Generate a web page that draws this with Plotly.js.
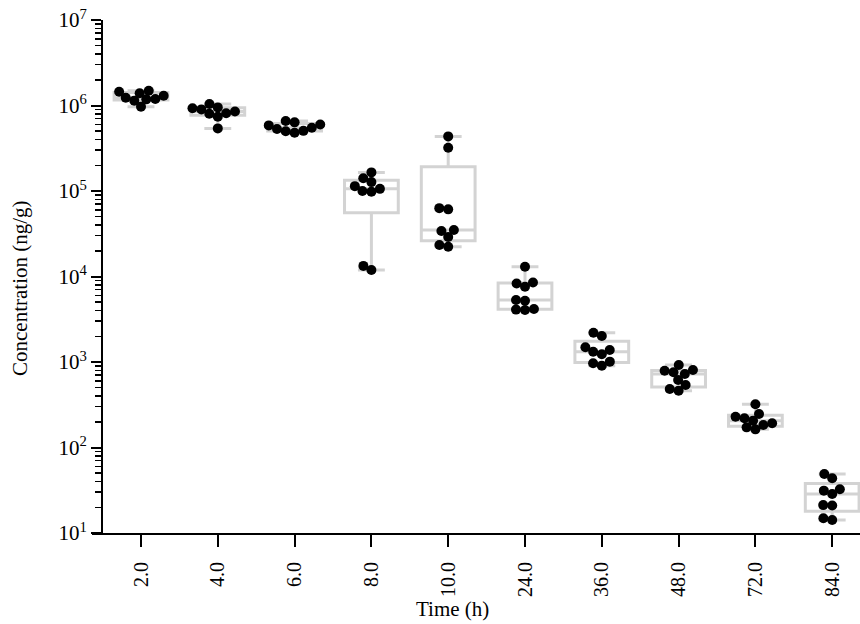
<!DOCTYPE html>
<html>
<head>
<meta charset="utf-8">
<script src="https://cdn.plot.ly/plotly-3.0.1.min.js"></script>
<style>html,body{margin:0;padding:0;background:#fff}</style>
</head>
<body>
<div id="chart" style="width:860px;height:624px"></div>
<script>
// ---- data ----
const categories = ['2.0', '4.0', '6.0', '8.0', '10.0', '24.0', '36.0', '48.0', '72.0', '84.0'];
const conc_2h  = [1.23e6, 1.45e6, 1.18e6, 0.97e6, 1.39e6, 1.14e6, 1.49e6, 1.19e6, 1.30e6];
const conc_4h  = [0.93e6, 0.90e6, 0.85e6, 0.81e6, 0.74e6, 0.80e6, 0.95e6, 1.04e6, 0.54e6];
const conc_6h  = [0.66e6, 0.60e6, 0.55e6, 0.505e6, 0.48e6, 0.50e6, 0.53e6, 0.585e6, 0.635e6];
const conc_8h  = [165e3, 141e3, 114e3, 100e3, 98e3, 106e3, 127e3, 11.9e3, 13.3e3];
const conc_10h = [435e3, 320e3, 63e3, 61e3, 35e3, 34e3, 29e3, 22.3e3, 23.4e3];
const conc_24h = [13.0e3, 8.5e3, 7.6e3, 8.3e3, 5.2e3, 5.3e3, 4.17e3, 4.06e3, 4.1e3];
const conc_36h = [2010, 2200, 1380, 1320, 1490, 1230, 1010, 906, 966];
const conc_48h = [805, 758, 724, 791, 922, 616, 538, 462, 483];
const conc_72h = [320, 247, 229, 206, 183, 163, 172, 192, 220];
const conc_84h = [49, 43.6, 31.3, 32.5, 28.6, 21.2, 21.0, 14.2, 14.9];
const groups = [conc_2h, conc_4h, conc_6h, conc_8h, conc_10h, conc_24h, conc_36h, conc_48h, conc_72h, conc_84h];
const yExponents = [1, 2, 3, 4, 5, 6, 7];

// ---- geometry ----
const W = 860, H = 624;
const M = {l: 92, r: 0, t: 20, b: 91};
const plotW = W - M.l - M.r, plotH = H - M.t - M.b;
const xRange = [-0.638, 9.362];
const yRange = [1, 7];
const pxPerX = plotW / (xRange[1] - xRange[0]);
const pxPerDecade = plotH / (yRange[1] - yRange[0]);
const DIAM = 9;
const FONT = 'Liberation Serif, Times New Roman, serif';

// ---- beeswarm offsets (pixel space) ----
function swarm(values) {
  const order = values.map((v, i) => i).sort((a, b) => values[a] - values[b]);
  const placed = [];
  const off = new Array(values.length).fill(0);
  for (const i of order) {
    const y = -Math.log10(values[i]) * pxPerDecade;
    const neigh = placed.filter(p => Math.abs(p.y - y) < DIAM);
    const cands = [0];
    for (const p of neigh) {
      const dx = Math.sqrt(DIAM * DIAM - (p.y - y) * (p.y - y));
      cands.push(p.x - dx, p.x + dx);
    }
    cands.sort((a, b) => Math.abs(a) - Math.abs(b));
    let best = 0;
    for (const c of cands) {
      if (neigh.every(p => (p.x - c) ** 2 + (p.y - y) ** 2 >= DIAM * DIAM - 1e-6)) { best = c; break; }
    }
    placed.push({x: best, y: y});
    off[i] = best;
  }
  return off;
}

// ---- box statistics (exclusive quartiles, 1.5 IQR whiskers) ----
function med(a) { const n = a.length, m = Math.floor(n / 2); return n % 2 ? a[m] : (a[m - 1] + a[m]) / 2; }
function stats(vals) {
  const s = vals.slice().sort((a, b) => a - b);
  const n = s.length, h = Math.floor(n / 2);
  const q1 = med(s.slice(0, h)), q3 = med(s.slice(n % 2 ? h + 1 : h));
  const iqr = q3 - q1;
  const lf = s.find(v => v >= q1 - 1.5 * iqr);
  const uf = s.slice().reverse().find(v => v <= q3 + 1.5 * iqr);
  return {q1: q1, median: med(s), q3: q3, lf: lf, uf: uf};
}

const idx = categories.map((c, i) => i);
const st = groups.map(stats);

const boxTrace = {
  type: 'box',
  x: idx,
  q1: st.map(s => s.q1),
  median: st.map(s => s.median),
  q3: st.map(s => s.q3),
  lowerfence: st.map(s => s.lf),
  upperfence: st.map(s => s.uf),
  width: 0.7,
  whiskerwidth: 0.5,
  fillcolor: 'white',
  line: {color: '#d3d3d3', width: 3},
  boxpoints: false,
  hoverinfo: 'skip',
  showlegend: false
};

const px = [], py = [];
groups.forEach((g, gi) => {
  const off = swarm(g);
  g.forEach((v, i) => { px.push(gi + off[i] / pxPerX); py.push(v); });
});

const pointTrace = {
  type: 'scatter',
  mode: 'markers',
  x: px,
  y: py,
  marker: {color: 'black', size: 10},
  hoverinfo: 'y',
  showlegend: false
};

const layout = {
  width: W, height: H,
  margin: M,
  paper_bgcolor: 'white',
  plot_bgcolor: 'white',
  font: {family: FONT, size: 20, color: 'black'},
  showlegend: false,
  xaxis: {
    range: xRange,
    tickmode: 'array',
    tickvals: idx,
    ticktext: categories,
    tickangle: -90,
    ticks: 'outside',
    ticklen: 12,
    tickwidth: 2,
    tickcolor: 'black',
    ticklabelstandoff: 7,
    showline: true,
    linecolor: 'black',
    linewidth: 2,
    showgrid: false,
    zeroline: false,
    tickfont: {family: FONT, size: 20, color: 'black'}
  },
  yaxis: {
    type: 'log',
    range: yRange,
    anchor: 'free',
    position: 10 / plotW,
    tickmode: 'array',
    tickvals: yExponents.map(e => Math.pow(10, e)),
    ticktext: yExponents.map(e => '10<sup>' + e + '</sup>'),
    ticks: 'outside',
    ticklen: 10,
    tickwidth: 2,
    tickcolor: 'black',
    minor: {ticks: 'outside', ticklen: 6, tickwidth: 1.5, tickcolor: 'black', dtick: 'D1'},
    showline: true,
    linecolor: 'black',
    linewidth: 2,
    showgrid: false,
    zeroline: false,
    tickfont: {family: FONT, size: 21, color: 'black'}
  },
  annotations: [
    {text: 'Time (h)', xref: 'paper', yref: 'paper', x: (452 - M.l) / plotW, y: -(609 - (H - M.b)) / plotH,
     xanchor: 'center', yanchor: 'middle', showarrow: false, font: {family: FONT, size: 21, color: 'black'}},
    {text: 'Concentration (ng/g)', xref: 'paper', yref: 'paper', x: -(M.l - 20) / plotW, y: 1 - (288 - M.t) / plotH,
     xanchor: 'center', yanchor: 'middle', textangle: -90, showarrow: false, font: {family: FONT, size: 21, color: 'black'}}
  ]
};

Plotly.newPlot('chart', [boxTrace, pointTrace], layout, {displayModeBar: false, staticPlot: true});
</script>
</body>
</html>
